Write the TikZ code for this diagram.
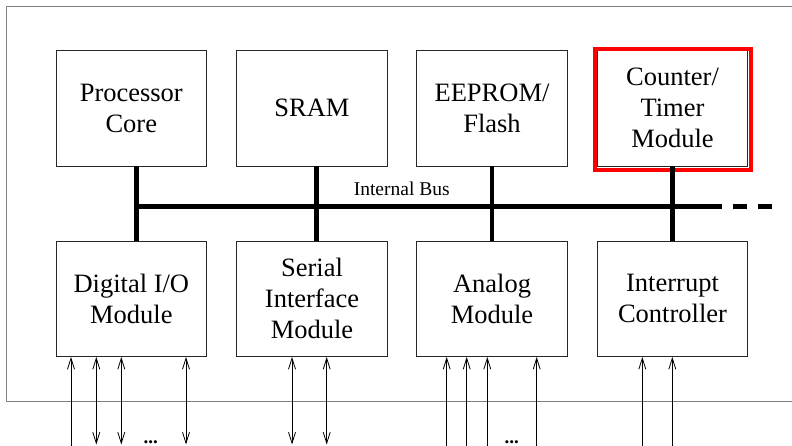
\documentclass[tikz,border=0pt]{standalone}
\usepackage{fontspec}
\setmainfont{Liberation Serif}
\usetikzlibrary{arrows.meta}

\tikzset{
  module/.style={draw=black!85,line width=0.9pt,minimum width=150.6pt,minimum height=115.4pt,
    inner sep=0pt,align=center,font=\fontsize{26.5}{31}\selectfont},
  bus/.style={line width=4.6pt},
  sigin/.style={line width=0.8pt,-{Straight Barb[length=11pt,width=7pt]}},
  sigio/.style={line width=0.8pt,{Straight Barb[length=11pt,width=7pt]}-{Straight Barb[length=11pt,width=7pt]}},
  dots/.style={anchor=base,inner sep=0pt,font=\fontsize{19}{22}\selectfont\bfseries}
}

\begin{document}
\begin{tikzpicture}[x=1pt,y=1pt,yscale=-1]
\useasboundingbox (0,0) rectangle (792,446);

%chip outline (runs off the right edge)
\draw [gray,line width=0.9pt] (800,6) -- (6,6) -- (6,401.7) -- (800,401.7);

%top row
\node [module] (core)  at (131.3,108.3) {Processor\\Core};
\node [module] (sram)  at (312,108.3)   {SRAM};
\node [module] (flash) at (492,108.3)   {EEPROM/\\Flash};
\node [module] (timer) at (672.5,108.3) {Counter/\\Timer\\Module};

%bottom row
\node [module] (dio)    at (131.3,298.8) {Digital I/O\\Module};
\node [module] (serial) at (312,298.8)   {Serial\\Interface\\Module};
\node [module] (analog) at (492,298.8)   {Analog\\Module};
\node [module] (irq)    at (672.5,298.8) {Interrupt\\Controller};

%highlight
\draw [red,line width=4pt] (595.3,49.3) rectangle (751.3,170);

%internal bus
\coordinate (busL)  at (136.3,206.7);
\coordinate (busR)  at (722.3,206.7);
\coordinate (dashL) at (732.7,206.7);
\coordinate (dashR) at (772.3,206.7);
\draw [bus] (busL) -- (busR);
\draw [bus,dash pattern=on 14.6pt off 10.4pt] (dashL) -- (dashR);
\draw [bus] ([xshift=5pt]core.south) -- ([xshift=5pt]dio.north);
\draw [bus] ([xshift=4.7pt]sram.south) -- ([xshift=4.7pt]serial.north);
\draw [bus] (flash.south) -- (analog.north);
\draw [bus] (timer.south) -- (irq.north);
\node [anchor=base,inner sep=0pt,font=\fontsize{19.5}{22}\selectfont] (buslabel) at (401.7,195.5) {Internal Bus};

%pins
\coordinate (d1) at (71,446);
\draw [sigin] (d1) -- (d1 |- dio.south);
\foreach \x/\n in {96.3/d2,121.3/d3,186/d4}{
  \coordinate (\n) at (\x,444.5);
  \draw [sigio] (\n) -- (\n |- dio.south);
}
\foreach \x/\n in {292/s1,326.7/s2}{
  \coordinate (\n) at (\x,444.5);
  \draw [sigio] (\n) -- (\n |- serial.south);
}
\foreach \x/\n in {446.7/a1,466.7/a2,487.3/a3,536.7/a4}{
  \coordinate (\n) at (\x,446);
  \draw [sigin] (\n) -- (\n |- analog.south);
}
\foreach \x/\n in {642.3/i1,672.3/i2}{
  \coordinate (\n) at (\x,446);
  \draw [sigin] (\n) -- (\n |- irq.south);
}
\node [dots] (dotsD) at (150.7,443) {...};
\node [dots] (dotsA) at (511.7,443) {...};

\end{tikzpicture}
\end{document}
